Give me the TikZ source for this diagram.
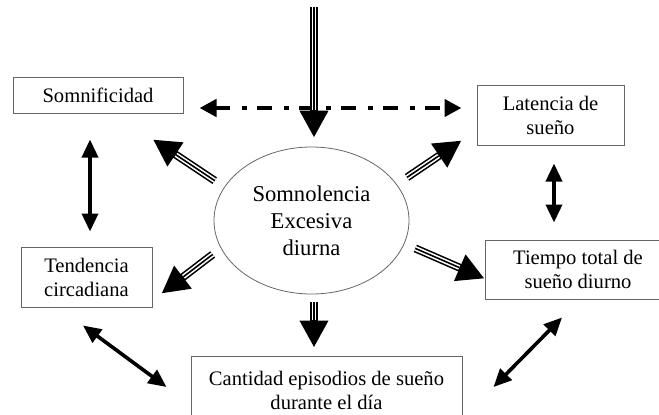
\documentclass[tikz,border=0pt]{standalone}
\usepackage{fontspec}
\setmainfont{Liberation Serif}
\usetikzlibrary{arrows.meta,calc,shapes.geometric}

\tikzset{
	caja/.style={rectangle, draw=black!60, line width=0.5pt, align=center, inner sep=0pt, font=\fontsize{10.3}{12}\selectfont},
	triple/.style={line width=4pt, -{Triangle[length=13.5pt,width=13.5pt]},
		postaction={draw=white, line width=2.4pt, arrows=-, shorten >=13.8pt},
		postaction={draw=black, line width=0.8pt, arrows=-, shorten >=13.8pt}},
	doble/.style={line width=1.8pt, {Triangle[length=9pt,width=8pt]}-{Triangle[length=9pt,width=8pt]}},
	punteada/.style={line width=2.2pt, dash pattern=on 7.5pt off 6pt on 2.5pt off 5pt, {Triangle[length=8.5pt,width=8.5pt]}-{Triangle[length=8.5pt,width=8.5pt]}}
}

\begin{document}
\begin{tikzpicture}[x=0.5pt, y=-0.5pt]
		\clip (0,0) rectangle (659,414);
		% Draw the nodes
		\node[ellipse, draw=black!60, line width=0.4pt, inner sep=0pt, minimum width=97.5pt, minimum height=73.5pt, align=center, font=\fontsize{11.3}{13.5}\selectfont] (ell) at (311.5,220.5) {Somnolencia\\Excesiva\\diurna};
		\node[caja, minimum width=85pt, minimum height=18pt] (som) at (98,95) {Somnificidad};
		\node[caja, minimum width=73.5pt, minimum height=30pt] (lat) at (550.5,115) {Latencia de\\sueño};
		\node[caja, minimum width=65.5pt, minimum height=30pt] (tend) at (86.5,277) {Tendencia\\circadiana};
		\node[caja, minimum width=93pt, minimum height=29.5pt] (tim) at (578,269.5) {Tiempo total de\\sueño diurno};
		\node[caja, minimum width=135.5pt, minimum height=34pt] (bot) at (326.5,390) {Cantidad episodios de sueño\\durante el día};
		\coordinate (src) at (314,7);
		
		% Draw the dash-dot link
		\draw[punteada] ($(som.east)+(16,13)$) -- ($(lat.west)+(-15,-7)$);
		
		% Draw the arrows out of the ellipse
		\draw[triple] (src) -- ($(src |- ell.north)+(0,-9)$);
		\draw[triple, shorten <=4pt] (ell.south -| src) -- ($(src |- bot.north)+(0,-8)$);
		\draw[triple, shorten <=5.7pt] (ell.159) -- ($(som.south)+(55,26)$);
		\draw[triple, shorten <=6.2pt] (ell.23) -- ($(lat.south west)+(-15,-5)$);
		\draw[triple, shorten <=5.1pt] (ell.197) -- ($(tend.south east)+(9,-14)$);
		\draw[triple, shorten <=5.9pt] (ell.346) -- ($(tim.west)+(0,9)$);
		
		% Draw the two-way arrows
		\draw[doble] ($(som.south)+(-8,26)$) -- ($(tend.north)+(3.5,-15)$);
		\draw[doble] ($(lat.south)+(3.5,18)$) -- ($(tim.north)+(-24,-17)$);
		\draw[doble] ($(tend.south)+(-3.5,18)$) -- ($(bot.west)+(-24,-3)$);
		\draw[doble] ($(tim.south)+(-16,18)$) -- ($(bot.east)+(31,-3)$);
		
	\end{tikzpicture}
\end{document}
